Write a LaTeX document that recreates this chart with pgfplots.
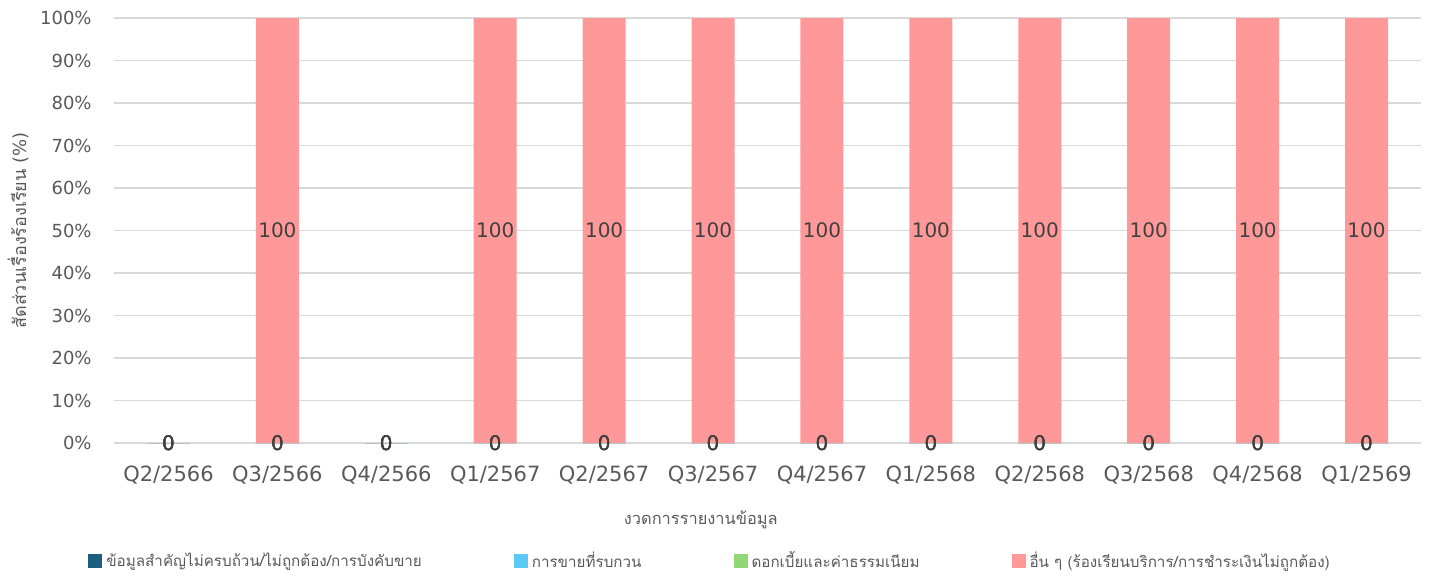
\documentclass[border=0pt]{standalone}
\usepackage{pgfplots}
\pgfplotsset{compat=1.18}
\usepackage{pgfplotstable}
\usepackage{fontspec}
\setmainfont{DejaVu Sans}
\newfontfamily\thai[Script=Thai]{Loma}
\definecolor{cA}{HTML}{1B5E80}
\definecolor{cB}{HTML}{5BC9F5}
\definecolor{cC}{HTML}{92D775}
\definecolor{cD}{HTML}{FF9999}
\definecolor{gridc}{HTML}{D9D9D9}
\definecolor{txt}{HTML}{595959}
\definecolor{lbl}{HTML}{404040}
\pgfplotstableread{
x v1 v2 v3 v4
0 0 0 0 0
1 0 0 0 100
2 0 0 0 0
3 0 0 0 100
4 0 0 0 100
5 0 0 0 100
6 0 0 0 100
7 0 0 0 100
8 0 0 0 100
9 0 0 0 100
10 0 0 0 100
11 0 0 0 100
}\data
\begin{document}
\begin{tikzpicture}
\begin{axis}[
  scale only axis,
  width=653.5pt, height=212.5pt,
  ybar, bar shift=0pt,
  bar width=21.5pt,
  xmin=-0.5, xmax=11.5,
  ymin=0, ymax=100,
  xtick={0,...,11},
  xticklabels={Q2/2566,Q3/2566,Q4/2566,Q1/2567,Q2/2567,Q3/2567,Q4/2567,Q1/2568,Q2/2568,Q3/2568,Q4/2568,Q1/2569},
  ytick={0,10,...,100},
  yticklabel={\pgfmathprintnumber{\tick}\%},
  /pgf/number format/assume math mode=true,
  major tick length=0pt,
  axis line style={draw=none},
  ymajorgrids,
  grid style={gridc, line width=0.9pt},
  tick label style={text=txt},
  yticklabel style={font=\fontsize{9}{10}\selectfont, anchor=east, inner sep=0pt, xshift=-11pt},
  xticklabel style={font=\fontsize{10.5}{12}\selectfont, anchor=base, inner sep=0pt, yshift=-19pt},
  xlabel={\thai งวดการรายงานข้อมูล},
  xlabel style={at={(axis description cs:0.449,-0.181)}, anchor=center, text=txt, font=\fontsize{8.2}{10}\selectfont},
  ylabel={{\thai สัดส่วนเรื่องร้องเรียน} (\%)},
  ylabel style={at={(axis description cs:-0.0735,0.5)}, anchor=center, rotate=0, text=txt, font=\fontsize{9}{11}\selectfont},
  legend columns=4,
  legend style={draw=none, at={(axis description cs:0.4568,-0.2776)}, anchor=center,
    font=\thai\fontsize{7.6}{9}\selectfont, text=txt,
    /tikz/every even column/.append style={column sep=44pt},
    legend cell align=left},
  legend image code/.code={\fill[#1] (0pt,-3.5pt) rectangle (7pt,3.5pt);},
  point meta=explicit,
  nodes near coords align={center},
  every node near coord/.append style={font=\fontsize{10}{12}\selectfont, text=lbl},
]
\addplot[fill=cA, draw=none] table[x=x, y=v1] {\data};
\addlegendentry{ข้อมูลสำคัญไม่ครบถ้วน/ไม่ถูกต้อง/การบังคับขาย}
\addplot[fill=cB, draw=none] table[x=x, y=v2] {\data};
\addlegendentry{การขายที่รบกวน}
\addplot[fill=cC, draw=none] table[x=x, y=v3] {\data};
\addlegendentry{ดอกเบี้ยและค่าธรรมเนียม}
\addplot[fill=cD, draw=none] table[x=x, y=v4] {\data};
\addlegendentry{อื่น ๆ (ร้องเรียนบริการ/การชำระเงินไม่ถูกต้อง)}
% value labels
\addplot[draw=none, fill=none, nodes near coords, forget plot] table[x=x, y=v1, meta=v1] {\data};
\addplot[draw=none, fill=none, nodes near coords, forget plot] table[x=x, y=v2, meta=v2] {\data};
\addplot[draw=none, fill=none, nodes near coords, forget plot] table[x=x, y=v3, meta=v3] {\data};
\addplot[draw=none, fill=none, nodes near coords, forget plot] table[x=x, y expr=\thisrow{v4}/2, meta=v4] {\data};
\coordinate (O) at (rel axis cs:0,0);
\coordinate (T) at (rel axis cs:1,1);
\end{axis}
\pgfresetboundingbox
\path ([shift={(-57pt,-68.5pt)}]O) rectangle ([shift={(8pt,9pt)}]T);
\end{tikzpicture}
\end{document}
